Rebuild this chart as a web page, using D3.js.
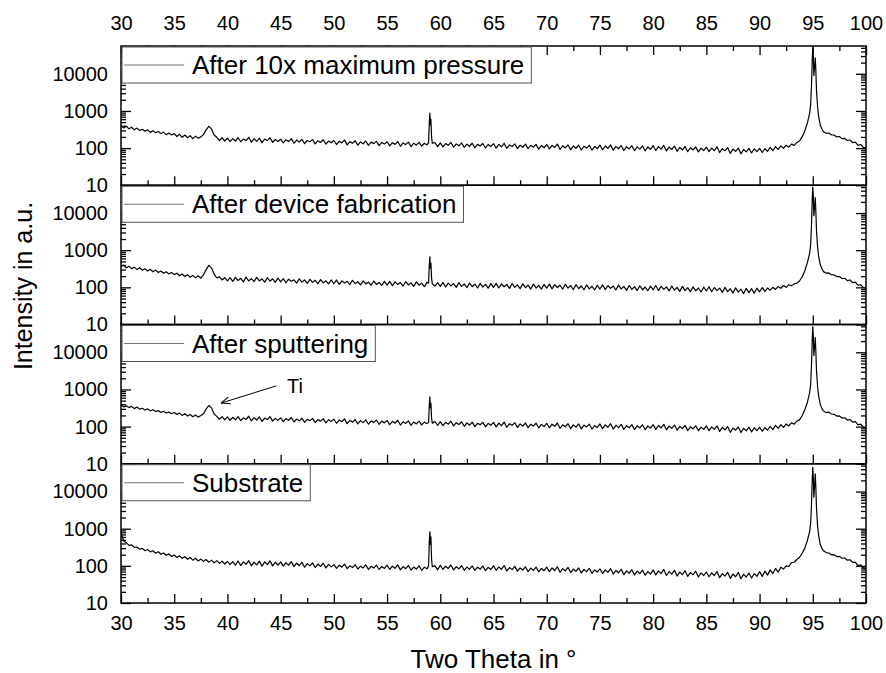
<!DOCTYPE html>
<html>
<head>
<meta charset="utf-8">
<script src="https://cdn.jsdelivr.net/npm/d3@7"></script>
<style>
  body { margin: 0; background: #fff; }
  text { font-family: "Liberation Sans", Arial, sans-serif; fill: #000; }
</style>
</head>
<body>
<div class="xrd_wrapper"></div>
<script>
// panel labels, top to bottom
const labels = ["After 10x maximum pressure", "After device fabrication", "After sputtering", "Substrate"]

// x ticks (two theta) and y ticks (intensity)
const xTicks = [30, 35, 40, 45, 50, 55, 60, 65, 70, 75, 80, 85, 90, 95, 100]
const yTicks = [10, 100, 1000, 10000]

// baseline intensities, 30..100 deg every 0.25 deg (one row = 5 deg)
const pressure = [
  400, 350, 390, 330, 365, 310, 345, 300, 320, 285, 310, 265, 295, 260, 280, 245, 270, 230, 255, 225,
  245, 205, 235, 195, 225, 190, 215, 180, 210, 185, 200, 230, 310, 385, 330, 225, 195, 160, 190, 155,
  185, 150, 180, 155, 190, 148, 175, 160, 195, 145, 178, 152, 185, 140, 176, 158, 190, 143, 170, 150,
  175, 138, 168, 150, 180, 135, 165, 145, 172, 132, 160, 148, 170, 130, 158, 142, 168, 128, 155, 140,
  160, 125, 152, 138, 165, 122, 150, 135, 158, 120, 148, 130, 155, 118, 145, 132, 152, 117, 142, 128,
  148, 115, 140, 126, 150, 112, 138, 124, 145, 110, 136, 120, 142, 113, 135, 122, 700, 300, 140, 110,
  138, 108, 132, 118, 142, 106, 130, 115, 138, 104, 128, 112, 135, 102, 126, 114, 133, 101, 125, 110,
  132, 100, 126, 108, 135, 98, 122, 110, 130, 97, 120, 105, 128, 96, 119, 106, 126, 94, 117, 102,
  125, 95, 118, 104, 128, 92, 115, 101, 122, 90, 114, 99, 120, 89, 112, 100, 119, 88, 110, 97,
  120, 90, 114, 98, 122, 88, 111, 96, 118, 86, 109, 95, 116, 85, 108, 94, 115, 84, 107, 93,
  116, 86, 110, 94, 118, 84, 106, 92, 113, 82, 104, 90, 111, 80, 102, 89, 108, 79, 100, 86,
  106, 80, 100, 86, 108, 76, 97, 84, 103, 72, 94, 82, 100, 70, 92, 79, 98, 74, 95, 80,
  98, 76, 96, 82, 104, 85, 110, 92, 115, 98, 120, 106, 128, 118, 142, 155, 200, 290, 500, 900,
  50000, 27000, 1200, 380, 275, 250, 255, 228, 225, 200, 205, 180, 182, 160, 165, 140, 145, 118, 125, 105,
  100
]
const fabrication = [
  370, 395, 335, 372, 318, 350, 300, 338, 290, 315, 275, 305, 262, 290, 250, 275, 240, 262, 230, 250,
  220, 240, 205, 228, 195, 218, 188, 210, 180, 205, 176, 218, 300, 390, 335, 228, 180, 192, 158, 182,
  150, 182, 145, 186, 152, 175, 140, 190, 148, 172, 143, 185, 150, 168, 138, 182, 146, 170, 136, 178,
  140, 172, 133, 166, 145, 160, 130, 170, 138, 158, 128, 165, 136, 155, 126, 162, 132, 150, 124, 158,
  125, 158, 120, 150, 130, 145, 118, 155, 126, 142, 116, 150, 124, 138, 114, 148, 120, 135, 113, 145,
  115, 145, 110, 140, 120, 135, 108, 143, 116, 132, 106, 140, 114, 130, 104, 136, 600, 300, 108, 135,
  106, 136, 102, 130, 110, 126, 100, 134, 106, 124, 98, 130, 104, 122, 96, 128, 102, 120, 95, 126,
  100, 128, 96, 124, 104, 120, 94, 127, 100, 117, 92, 124, 98, 115, 90, 122, 96, 113, 89, 120,
  95, 122, 91, 118, 99, 114, 89, 121, 95, 112, 87, 118, 93, 109, 86, 116, 91, 107, 85, 114,
  90, 117, 87, 112, 94, 109, 85, 115, 90, 106, 83, 112, 88, 104, 82, 110, 86, 102, 81, 108,
  86, 112, 82, 106, 88, 103, 80, 109, 84, 100, 78, 106, 82, 98, 76, 103, 80, 96, 75, 101,
  80, 104, 76, 99, 82, 95, 73, 100, 77, 92, 70, 97, 74, 90, 68, 94, 72, 92, 70, 95,
  76, 98, 78, 96, 84, 100, 88, 106, 94, 112, 100, 118, 110, 124, 130, 148, 190, 280, 480, 850,
  48000, 26000, 1150, 370, 265, 242, 245, 218, 216, 195, 195, 172, 176, 152, 158, 134, 138, 114, 118, 98,
  96
]
const sputtering = [
  380, 340, 360, 325, 350, 305, 335, 295, 312, 280, 300, 265, 285, 255, 270, 240, 258, 232, 248, 222,
  240, 212, 230, 200, 222, 192, 212, 185, 205, 180, 198, 222, 295, 370, 320, 218, 188, 158, 186, 152,
  182, 148, 178, 152, 186, 145, 172, 156, 190, 142, 174, 150, 182, 138, 170, 155, 185, 140, 166, 147,
  172, 136, 164, 147, 176, 133, 160, 143, 168, 130, 157, 145, 166, 128, 154, 140, 164, 126, 152, 138,
  158, 123, 150, 135, 162, 120, 147, 132, 155, 118, 145, 128, 152, 116, 142, 130, 150, 115, 140, 126,
  146, 113, 138, 124, 148, 110, 135, 122, 142, 108, 133, 118, 140, 111, 132, 120, 580, 300, 137, 108,
  136, 106, 130, 116, 140, 104, 127, 113, 135, 102, 125, 110, 132, 100, 123, 112, 130, 99, 122, 108,
  130, 98, 124, 106, 132, 96, 120, 108, 128, 95, 118, 103, 125, 94, 116, 104, 123, 92, 114, 100,
  122, 93, 116, 102, 125, 90, 112, 99, 120, 88, 111, 97, 118, 87, 109, 98, 116, 86, 107, 95,
  118, 88, 111, 96, 120, 86, 108, 94, 115, 84, 106, 93, 113, 83, 105, 92, 112, 82, 104, 91,
  113, 84, 107, 92, 115, 82, 103, 90, 110, 80, 101, 88, 108, 78, 99, 87, 105, 77, 97, 84,
  104, 78, 98, 84, 105, 74, 95, 82, 100, 70, 92, 80, 98, 69, 90, 77, 96, 72, 93, 78,
  96, 75, 94, 80, 102, 83, 108, 90, 113, 96, 118, 104, 126, 116, 140, 152, 196, 285, 470, 830,
  47000, 25000, 1120, 360, 262, 240, 244, 218, 214, 192, 194, 170, 173, 150, 155, 132, 136, 112, 116, 96,
  94
]
const substrate = [
  780, 470, 420, 355, 368, 315, 322, 280, 296, 255, 275, 238, 255, 220, 240, 205, 222, 192, 210, 180,
  196, 168, 186, 160, 176, 150, 168, 142, 160, 136, 152, 132, 148, 125, 142, 120, 138, 116, 134, 112,
  132, 108, 130, 105, 135, 102, 128, 110, 138, 100, 126, 106, 134, 98, 128, 108, 136, 100, 125, 104,
  128, 98, 122, 104, 130, 95, 118, 102, 124, 92, 114, 100, 120, 90, 112, 97, 118, 88, 110, 94,
  108, 86, 104, 92, 112, 84, 100, 90, 108, 82, 98, 88, 106, 80, 97, 87, 104, 80, 96, 85,
  104, 80, 98, 86, 106, 78, 95, 84, 102, 77, 93, 82, 100, 76, 92, 83, 600, 300, 100, 78,
  104, 80, 98, 85, 106, 77, 95, 83, 102, 76, 93, 81, 100, 75, 92, 82, 99, 74, 91, 80,
  100, 76, 94, 81, 102, 73, 90, 79, 97, 72, 88, 77, 95, 70, 87, 76, 93, 69, 85, 74,
  93, 70, 88, 75, 95, 67, 84, 73, 91, 66, 82, 71, 88, 64, 80, 70, 86, 63, 78, 68,
  83, 62, 78, 67, 85, 60, 75, 65, 81, 58, 73, 63, 79, 57, 72, 62, 77, 56, 70, 60,
  78, 57, 73, 62, 80, 55, 70, 60, 76, 53, 68, 58, 74, 52, 66, 57, 72, 50, 65, 55,
  68, 51, 65, 55, 70, 48, 62, 53, 67, 46, 60, 51, 66, 45, 59, 50, 64, 47, 62, 52,
  70, 52, 72, 56, 78, 62, 85, 68, 92, 82, 100, 96, 122, 125, 148, 168, 218, 300, 490, 820,
  45000, 30000, 1100, 300, 255, 228, 222, 198, 200, 178, 180, 160, 162, 142, 146, 124, 125, 102, 106, 88,
  82
]

// finer points across the two sharp reflections [theta, intensity]
const pressurePeaks = [
  [58.9, 140], [58.97, 500], [59.02, 870], [59.07, 420], [59.12, 600], [59.18, 200], [59.25, 135],
  [94.5, 480], [94.6, 650], [94.7, 850], [94.8, 1500], [94.88, 5000], [94.95, 25000], [95.0, 51000],
  [95.05, 30000], [95.1, 9000], [95.17, 15000], [95.23, 27000], [95.28, 14000], [95.35, 3500],
  [95.45, 1300], [95.55, 700], [95.7, 420], [95.85, 330]
]
const fabricationPeaks = [
  [58.9, 130], [58.97, 420], [59.02, 660], [59.07, 330], [59.12, 450], [59.18, 180], [59.25, 125],
  [94.5, 470], [94.6, 620], [94.7, 820], [94.8, 1400], [94.88, 4800], [94.95, 24000], [95.0, 50000],
  [95.05, 29000], [95.1, 8500], [95.17, 14000], [95.23, 26000], [95.28, 13000], [95.35, 3300],
  [95.45, 1250], [95.55, 680], [95.7, 410], [95.85, 320]
]
const sputteringPeaks = [
  [58.9, 130], [58.97, 400], [59.02, 630], [59.07, 320], [59.12, 430], [59.18, 170], [59.25, 124],
  [94.5, 460], [94.6, 610], [94.7, 800], [94.8, 1350], [94.88, 4600], [94.95, 23000], [95.0, 49000],
  [95.05, 28000], [95.1, 8200], [95.17, 13500], [95.23, 25000], [95.28, 12500], [95.35, 3200],
  [95.45, 1200], [95.55, 660], [95.7, 400], [95.85, 310]
]
const substratePeaks = [
  [58.9, 100], [58.97, 450], [59.02, 820], [59.07, 380], [59.12, 600], [59.18, 150], [59.25, 95],
  [94.5, 490], [94.6, 650], [94.7, 820], [94.8, 1400], [94.88, 4500], [94.95, 22000], [95.0, 45000],
  [95.05, 25000], [95.1, 7000], [95.17, 14000], [95.23, 30000], [95.28, 15000], [95.35, 3500],
  [95.45, 1200], [95.55, 650], [95.7, 380], [95.85, 300]
]

// Ti annotation in panel 3: arrow tail, arrow tip, text (theta, intensity)
const tiArrow = [[44.6, 1250], [39.4, 430]]
const tiText = [45.6, 800]

const windows = [[58.85, 59.3], [94.4, 95.95]]

function buildSeries(base, peaks) {
  let pts = base.map(function(v, i) { return [30 + i * 0.25, v] })
    .filter(function(p) { return !windows.some(function(w) { return p[0] > w[0] && p[0] < w[1] }) })
  pts = pts.concat(peaks)
  pts.sort(function(a, b) { return a[0] - b[0] })
  return pts
}

const series = [
  buildSeries(pressure, pressurePeaks),
  buildSeries(fabrication, fabricationPeaks),
  buildSeries(sputtering, sputteringPeaks),
  buildSeries(substrate, substratePeaks)
]

var margin = {top: 46, right: 20, bottom: 70, left: 121},
    width = 886 - margin.left - margin.right,
    height = 673 - margin.top - margin.bottom,
    panelH = height / 4

var svg = d3.select(".xrd_wrapper")
  .append("svg")
    .attr("width", 886)
    .attr("height", 673)
  .append("g")
    .attr("transform", "translate(" + margin.left + "," + margin.top + ")")

const xScale = d3.scaleLinear()
  .domain([30, 100])
  .range([0, width])

const yScale = d3.scaleLog()
  .domain([10, 56000])
  .range([panelH, 0])

const xMinor = d3.range(32.5, 100, 5)
let yMinor = []
yTicks.forEach(function(d) {
  for (let k = 2; k <= 9; k++) { if (d * k < 56000) yMinor.push(d * k) }
})

svg.append("defs").append("clipPath").attr("id", "clip")
  .append("rect").attr("width", width).attr("height", panelH)

const line = d3.line()
  .x(function(d) { return xScale(d[0]) })
  .y(function(d) { return yScale(d[1]) })

function styleAxis(g, size) {
  g.select(".domain").remove()
  g.selectAll(".tick line").attr("stroke", "#000").attr("stroke-width", 1.3)
  g.selectAll("text").style("font-size", size + "px")
}

series.forEach(function(data, i) {
  const panel = svg.append("g")
    .attr("transform", "translate(0," + (i * panelH) + ")")

  // data trace
  panel.append("path")
    .datum(data)
    .attr("clip-path", "url(#clip)")
    .attr("fill", "none")
    .attr("stroke", "#000")
    .attr("stroke-width", 1.2)
    .attr("stroke-linejoin", "round")
    .attr("d", line)

  // left axis: labels outside, ticks inside
  panel.append("g")
    .call(d3.axisLeft(yScale).tickValues(yTicks).tickSize(-10).tickPadding(13).tickFormat(d3.format("d")))
    .call(styleAxis, 20)
  panel.append("g")
    .call(d3.axisLeft(yScale).tickValues(yMinor).tickSize(-5).tickFormat(""))
    .call(styleAxis, 20)

  // right axis
  panel.append("g")
    .attr("transform", "translate(" + width + ",0)")
    .call(d3.axisRight(yScale).tickValues(yTicks).tickSize(-10).tickFormat(""))
    .call(styleAxis, 20)
  panel.append("g")
    .attr("transform", "translate(" + width + ",0)")
    .call(d3.axisRight(yScale).tickValues(yMinor).tickSize(-5).tickFormat(""))
    .call(styleAxis, 20)

  // bottom axis
  panel.append("g")
    .attr("transform", "translate(0," + panelH + ")")
    .call(d3.axisBottom(xScale).tickValues(xTicks).tickSize(-9).tickPadding(13)
      .tickFormat(i === 3 ? d3.format("d") : ""))
    .call(styleAxis, 20)
  panel.append("g")
    .attr("transform", "translate(0," + panelH + ")")
    .call(d3.axisBottom(xScale).tickValues(xMinor).tickSize(-5).tickFormat(""))
    .call(styleAxis, 20)

  if (i === 0) {
    panel.append("g")
      .call(d3.axisTop(xScale).tickValues(xTicks).tickSize(-9).tickPadding(16).tickFormat(d3.format("d")))
      .call(styleAxis, 20)
    panel.append("g")
      .call(d3.axisTop(xScale).tickValues(xMinor).tickSize(-5).tickFormat(""))
      .call(styleAxis, 20)
  }

  // frame
  panel.append("rect")
    .attr("width", width)
    .attr("height", panelH)
    .attr("fill", "none")
    .attr("stroke", "#000")
    .attr("stroke-width", 1.5)

  // legend box
  const leg = panel.append("g")
  const box = leg.append("rect")
    .attr("x", 1)
    .attr("y", 1)
    .attr("height", 36)
    .attr("fill", "#fff")
    .attr("stroke", "#555")
    .attr("stroke-width", 1)
  leg.append("line")
    .attr("x1", 3).attr("x2", 63)
    .attr("y1", 19).attr("y2", 19)
    .attr("stroke", "#777")
    .attr("stroke-width", 1.2)
  const txt = leg.append("text")
    .attr("x", 71)
    .attr("y", 28)
    .style("font-size", "26px")
    .text(labels[i])
  box.attr("width", 71 + txt.node().getComputedTextLength() + 6)

  if (i === 2) {
    panel.append("defs").append("marker")
      .attr("id", "arrow")
      .attr("viewBox", "0 0 10 10")
      .attr("refX", 10).attr("refY", 5)
      .attr("markerWidth", 9).attr("markerHeight", 9)
      .attr("orient", "auto")
      .append("path")
      .attr("d", "M0,1 L10,5 L0,9")
      .attr("fill", "none")
      .attr("stroke", "#000")
      .attr("stroke-width", 1.2)
    panel.append("line")
      .attr("x1", xScale(tiArrow[0][0])).attr("y1", yScale(tiArrow[0][1]))
      .attr("x2", xScale(tiArrow[1][0])).attr("y2", yScale(tiArrow[1][1]))
      .attr("stroke", "#000")
      .attr("stroke-width", 1)
      .attr("marker-end", "url(#arrow)")
    panel.append("text")
      .attr("x", xScale(tiText[0]))
      .attr("y", yScale(tiText[1]))
      .style("font-size", "20px")
      .text("Ti")
  }
})

// axis titles
svg.append("text")
  .attr("x", width / 2)
  .attr("y", height + 65)
  .attr("text-anchor", "middle")
  .style("font-size", "26px")
  .text("Two Theta in °")

svg.append("text")
  .attr("transform", "translate(" + (-89) + "," + (286 - margin.top) + ") rotate(-90)")
  .attr("text-anchor", "middle")
  .style("font-size", "25px")
  .text("Intensity in a.u.")
</script>
</body>
</html>
